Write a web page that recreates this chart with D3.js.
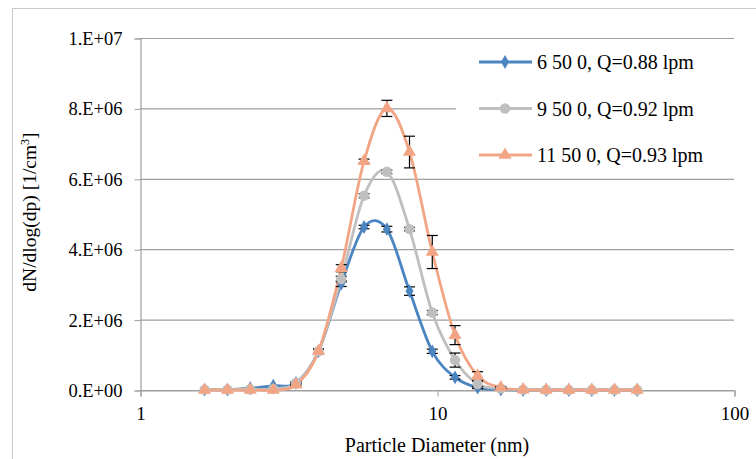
<!DOCTYPE html>
<html>
<head>
<meta charset="utf-8">
<script src="https://cdn.jsdelivr.net/npm/d3@7"></script>
<style>
  body { margin: 0; }
  svg text { font-family: 'Liberation Serif', 'Times New Roman', Times, serif !important; }
</style>
</head>
<body>
<svg id="chart" width="756" height="459"></svg>
<script>
// particle diameters (nm)
const diameters = [1.65, 1.97, 2.35, 2.81, 3.35, 3.99, 4.76, 5.68, 6.78, 8.08, 9.64, 11.5, 13.7, 16.4, 19.5, 23.3, 27.8, 33.2, 39.6, 47.2];

// dN/dlog(dp), in units of 1e6 /cm3
const s6  = [0.01, 0.01, 0.05, 0.12, 0.20, 1.10, 3.02, 4.63, 4.57, 2.81, 1.10, 0.36, 0.07, 0.01, 0, 0, 0, 0, 0, 0];
const s9  = [0.01, 0.01, 0.02, 0.03, 0.20, 1.10, 3.15, 5.52, 6.20, 4.57, 2.20, 0.85, 0.17, 0.04, 0.01, 0, 0, 0, 0, 0];
const s11 = [0, 0, 0, 0, 0.15, 1.10, 3.46, 6.50, 8.00, 6.76, 3.92, 1.56, 0.40, 0.07, 0.01, 0, 0, 0, 0, 0];

// error bar half-widths, same units
const e6  = [0, 0, 0, 0, 0.03, 0.06, 0.08, 0.05, 0.08, 0.12, 0.06, 0.05, 0.03, 0, 0, 0, 0, 0, 0, 0];
const e9  = [0, 0, 0, 0, 0.03, 0.06, 0.08, 0.06, 0.05, 0.05, 0.06, 0.20, 0.08, 0.02, 0, 0, 0, 0, 0, 0];
const e11 = [0, 0, 0, 0, 0.03, 0.06, 0.10, 0.06, 0.23, 0.45, 0.47, 0.27, 0.12, 0.03, 0, 0, 0, 0, 0, 0];

const seriesNames = ["6 50 0, Q=0.88 lpm", "9 50 0, Q=0.92 lpm", "11 50 0, Q=0.93 lpm"];
const seriesColors = ["#4a85c1", "#bfbfbf", "#f2a585"];

const xTicks = [1, 10, 100];
const yTicks = [0, 2e6, 4e6, 6e6, 8e6, 1e7];

const W = 756, H = 459;
const margin = {top: 38, right: 22, bottom: 69, left: 140};

const svg = d3.select("#chart");

// outer chart frame
svg.append("rect")
    .attr("x", 12.5).attr("y", 8.5)
    .attr("width", W).attr("height", H)
    .attr("fill", "none").attr("stroke", "#c8c8c8");

var x = d3.scaleLog().domain([1, 100]).range([margin.left, W - margin.right]);
var y = d3.scaleLinear().domain([0, 1e7]).range([H - margin.bottom, margin.top]);

function sci(v) {
  if (v === 0) return "0.E+00";
  var e = Math.floor(Math.log10(v));
  var m = Math.round(v / Math.pow(10, e));
  return m + ".E+" + String(e).padStart(2, "0");
}

// gridlines
svg.append("g")
  .selectAll("line")
  .data(yTicks)
  .join("line")
    .attr("x1", x(1)).attr("x2", x(100))
    .attr("y1", d => y(d) + 0.5).attr("y2", d => y(d) + 0.5)
    .attr("stroke", "#9e9e9e").attr("stroke-width", 1.2);

// y axis
var yAxis = svg.append("g")
    .attr("transform", "translate(" + (x(1) + 0.5) + ",0.5)")
    .call(d3.axisLeft(y).tickValues(yTicks).tickFormat(sci).tickSize(6).tickPadding(12))
    .attr("font-family", null).attr("font-size", 18.5);
yAxis.select(".domain").attr("stroke", "#9e9e9e").attr("stroke-width", 1.2);
yAxis.selectAll(".tick line").attr("stroke", "#9e9e9e");
yAxis.selectAll(".tick text").attr("fill", "#000");

// x axis
var xAxis = svg.append("g")
    .attr("transform", "translate(0.5," + (y(0) + 0.5) + ")")
    .call(d3.axisBottom(x).tickValues(xTicks).tickFormat(d3.format("d")).tickSize(6).tickPadding(10))
    .attr("font-family", null).attr("font-size", 19);
xAxis.select(".domain").attr("stroke", "#9e9e9e").attr("stroke-width", 1.2);
xAxis.selectAll(".tick line").attr("stroke", "#9e9e9e");
xAxis.selectAll(".tick text").attr("fill", "#000");

// axis titles
svg.append("text")
    .attr("text-anchor", "middle")
    .attr("font-size", 20)
    .attr("x", (x(1) + x(100)) / 2)
    .attr("y", 452)
    .text("Particle Diameter (nm)");

var yt = svg.append("text")
    .attr("text-anchor", "middle")
    .attr("font-size", 19.5)
    .attr("transform", "translate(36,212) rotate(-90)");
yt.append("tspan").text("dN/dlog(dp) [1/cm");
yt.append("tspan").attr("font-size", 12).attr("dy", -7).text("3");
yt.append("tspan").attr("dy", 7).text("]");

// series
var allSeries = [s6, s9, s11].map(function(vals, i) {
  var errs = [e6, e9, e11][i];
  return {
    name: seriesNames[i],
    color: seriesColors[i],
    values: diameters.map(function(d, j) { return {d: d, v: vals[j] * 1e6, e: errs[j] * 1e6}; })
  };
});

var line = d3.line()
    .x(d => x(d.d))
    .y(d => y(d.v))
    .curve(d3.curveCatmullRom.alpha(0));

svg.append("g").selectAll("path")
  .data(allSeries)
  .join("path")
    .attr("fill", "none")
    .attr("stroke", d => d.color)
    .attr("stroke-width", 2.8)
    .attr("d", d => line(d.values));

// error bars
var errG = svg.append("g").attr("stroke", "#000").attr("stroke-width", 1.2);
allSeries.forEach(function(s) {
  s.values.filter(p => p.e > 0).forEach(function(p) {
    var cx = x(p.d), top = y(p.v + p.e), bot = y(p.v - p.e);
    errG.append("line").attr("x1", cx).attr("x2", cx).attr("y1", top).attr("y2", bot);
    errG.append("line").attr("x1", cx - 5.5).attr("x2", cx + 5.5).attr("y1", top).attr("y2", top);
    errG.append("line").attr("x1", cx - 5.5).attr("x2", cx + 5.5).attr("y1", bot).attr("y2", bot);
  });
});

// markers
var symbols = [
  d3.symbol().type(d3.symbolDiamond).size(55),
  d3.symbol().type(d3.symbolCircle).size(85),
  d3.symbol().type(d3.symbolTriangle).size(75)
];
allSeries.forEach(function(s, i) {
  svg.append("g").selectAll("path")
    .data(s.values)
    .join("path")
      .attr("transform", d => "translate(" + x(d.d) + "," + y(d.v) + ")")
      .attr("d", symbols[i]())
      .attr("fill", s.color);
});

// legend
var lg = svg.append("g");
lg.append("rect")
    .attr("x", 456).attr("y", 44)
    .attr("width", 290).attr("height", 130)
    .attr("fill", "#fff");
allSeries.forEach(function(s, i) {
  var ly = 62 + i * 46.5;
  lg.append("line")
      .attr("x1", 479).attr("x2", 532).attr("y1", ly).attr("y2", ly)
      .attr("stroke", s.color).attr("stroke-width", 2.8);
  lg.append("path")
      .attr("transform", "translate(505," + ly + ")")
      .attr("d", symbols[i]())
      .attr("fill", s.color);
  lg.append("text")
      .attr("x", 537).attr("y", ly)
      .attr("dy", "0.35em")
      .attr("font-size", 20)
      .attr("fill", "#000")
      .text(s.name);
});
</script>
</body>
</html>
